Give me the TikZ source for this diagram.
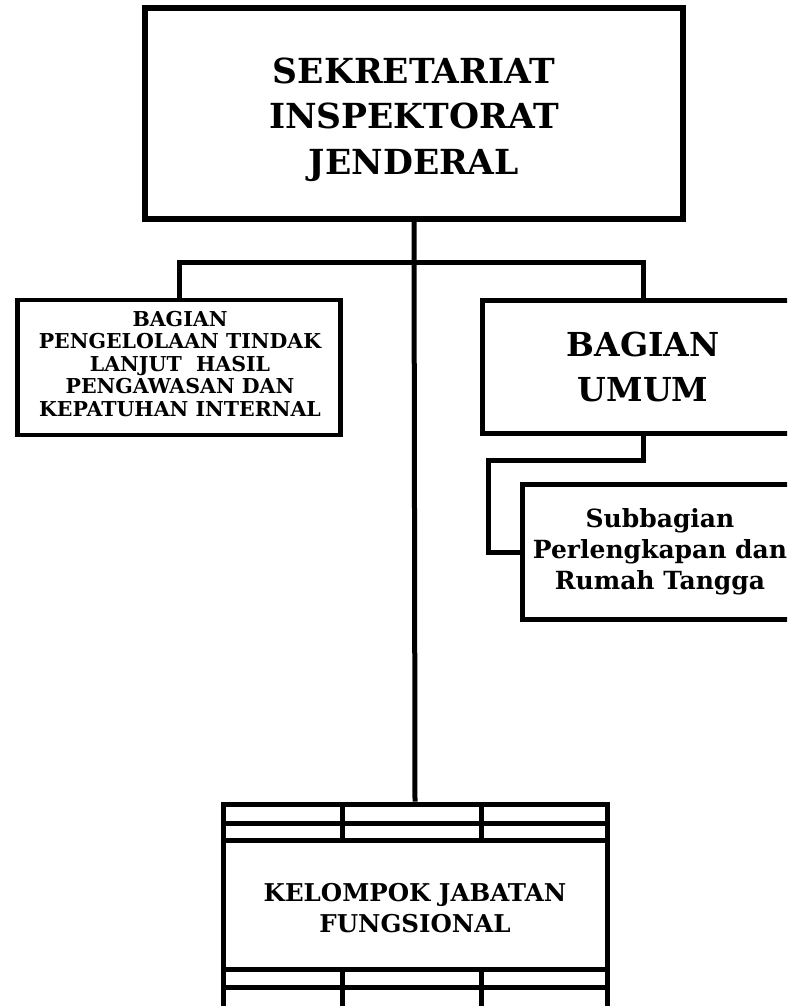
\documentclass[tikz,border=0pt]{standalone}
\usepackage{fontspec}
\setmainfont{DejaVu Serif}
\begin{document}
\begin{tikzpicture}[x=1pt,y=-1pt,
  box/.style={draw=black,rectangle,inner sep=0pt,align=center,font=\bfseries},
  txt/.style={inner sep=0pt,align=center},
  conn/.style={draw=black,line width=5pt}]
\useasboundingbox (0,0) rectangle (787,1006);
\clip (0,0) rectangle (787,1006);
\fill[white] (0,0) rectangle (787,1006);
% top box
\node[box,line width=6pt,minimum width=538pt,minimum height=211pt] (top) at (414,113.5) {};
\node[txt,font=\bfseries\fontsize{34.5}{45.5}\selectfont] (toptext) at (414,119.5)
  {SEKRETARIAT\\INSPEKTORAT\\JENDERAL};
% left box
\node[box,line width=4.5pt,minimum width=323pt,minimum height=135pt] (left) at (179,367.5) {};
\node[txt,font=\bfseries\fontsize{20.5}{22.5}\selectfont] (lefttext) at (180,364)
  {BAGIAN\\PENGELOLAAN TINDAK\\LANJUT\ \ HASIL\\PENGAWASAN DAN\\KEPATUHAN INTERNAL};
% right box
\node[box,line width=5pt,minimum width=322pt,minimum height=133pt,
  font=\bfseries\fontsize{33}{45}\selectfont] (umum) at (643,367)
  {BAGIAN\\UMUM};
% subbagian
\node[box,line width=5pt,minimum width=276pt,minimum height=135pt,
  font=\bfseries\fontsize{25}{31}\selectfont] (sub) at (660,552)
  {Subbagian\\Perlengkapan dan\\Rumah Tangga};
% kelompok jabatan fungsional
\node[box,line width=5pt,minimum width=384pt,minimum height=208pt,
  font=\bfseries\fontsize{24.5}{31}\selectfont] (kjf) at (415,908)
  {KELOMPOK JABATAN\\FUNGSIONAL};
\draw[line width=5pt] (kjf.north west |- 0,823) -- (kjf.north east |- 0,823);
\draw[line width=5pt] (kjf.north west |- 0,840) -- (kjf.north east |- 0,840);
\draw[line width=5pt] (kjf.north west |- 0,969) -- (kjf.north east |- 0,969);
\draw[line width=5pt] (kjf.north west |- 0,987) -- (kjf.north east |- 0,987);
\draw[line width=5pt] (342,804) -- (342,840);
\draw[line width=5pt] (481,804) -- (481,840);
\draw[line width=5pt] (342,969) -- (342,1012);
\draw[line width=5pt] (481,969) -- (481,1012);
% connectors
\coordinate (bar) at (414,262);
\coordinate (c1) at (488,460);
\draw[conn] (top.south) -- (kjf.north);
\draw[conn] (left.north) |- (bar) -| (umum.north);
\draw[conn] (umum.south) |- (c1) |- (sub.west);
\end{tikzpicture}
\end{document}
